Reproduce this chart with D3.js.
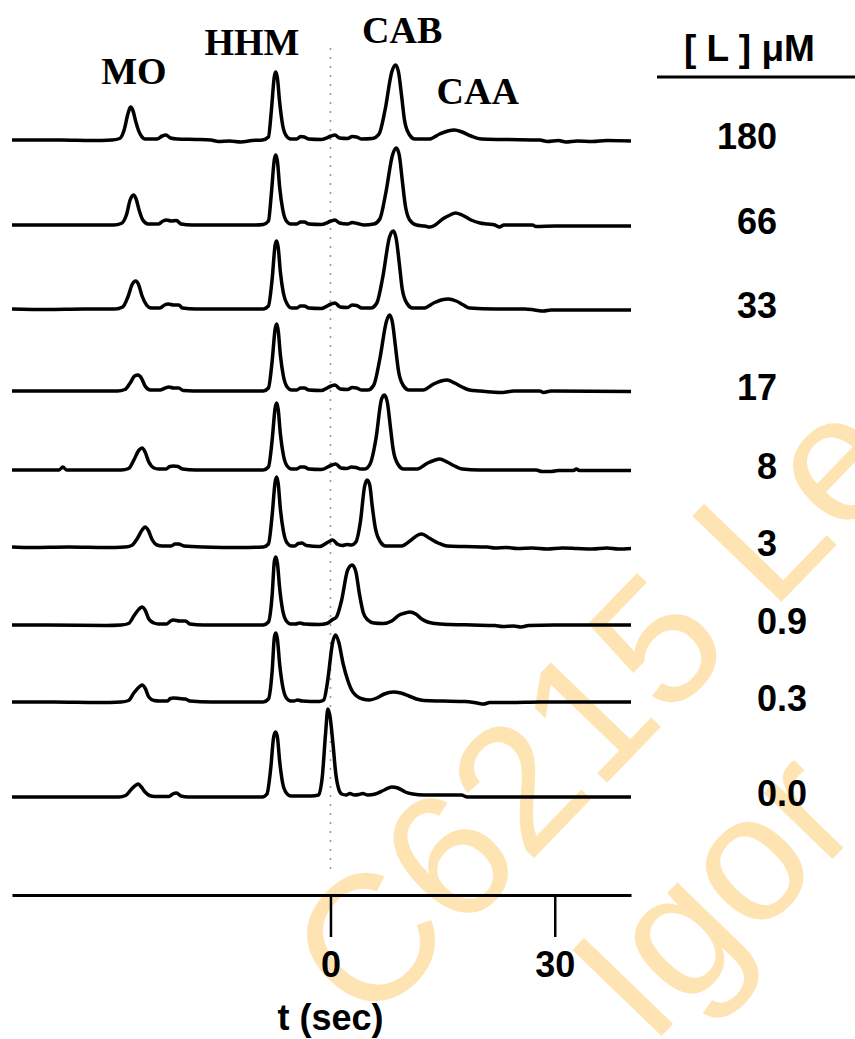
<!DOCTYPE html>
<html>
<head>
<meta charset="utf-8">
<script src="https://cdn.jsdelivr.net/npm/d3@7/dist/d3.min.js"></script>
<style>
  html, body { margin: 0; padding: 0; background: #fff; }
  svg { display: block; }
</style>
</head>
<body>
<svg id="chart" width="855" height="1039"></svg>
<script>
// ---------- DATA ----------
const concentrations = ["180", "66", "33", "17", "8", "3", "0.9", "0.3", "0.0"];
// vertical stacking offset of each trace (signal units above the time axis)
const traceOffsets = [755, 670, 586, 504, 425, 348, 270, 193, 98];
const peakNames = ["MO", "HHM", "CAB", "CAA"];
const tickValues = [0, 30];
const xLabel = "t (sec)";
const headerLabel = "[ L ] \u03BCM";
const watermarkLines = ["C6215 Le", "Igor"];

// traces: [t (sec), signal]
const t180 = [[-42.6,0],[-36,0],[-32,-0.5],[-29.2,0],[-28.2,1.5],[-27.6,10],[-27.1,26],[-26.75,33],[-26.45,30],[-26.1,20],[-25.7,10],[-25.3,4],[-24.8,1],[-23.2,1],[-22.5,4],[-22.0,5],[-21.4,2],[-20.5,1],[-18,0.5],[-16,0],[-15,-1.5],[-13.5,-1],[-12,-2],[-10.5,-0.5],[-9.1,0],[-8.3,3],[-7.9,30],[-7.5,64],[-7.3,68],[-7.1,62],[-6.8,38],[-6.4,15],[-5.9,4],[-5.3,1],[-4.5,1],[-4.0,3.5],[-3.5,3],[-2.9,1],[-1.2,0.5],[0.1,4],[0.6,5],[1.2,2],[2.3,1.5],[2.9,3.5],[3.5,3],[4.2,1],[5.6,1.5],[6.5,6],[7.3,30],[8.2,68],[8.7,75],[9.1,68],[9.5,45],[9.9,20],[10.5,6],[11.3,1],[13.2,1],[14.6,6],[15.7,9],[16.6,10],[17.6,8],[18.8,4],[20.2,1],[23,0.5],[28,0],[29,-1.5],[30.5,-0.5],[31.5,-2],[33,-1],[35,-1.5],[37,-0.5],[40.2,-1]];
const t66 = [[-42.6,0],[-35,0],[-29,0],[-28,1.5],[-27.3,10],[-26.8,25],[-26.35,30],[-26.0,26],[-25.6,15],[-25.1,5],[-24.4,1],[-23.0,1],[-22.4,4],[-21.9,5],[-21.3,4],[-20.6,4.5],[-20.0,1],[-18.5,0],[-12,0],[-10,0],[-9.0,0.5],[-8.3,4],[-7.9,32],[-7.5,66],[-7.3,70],[-7.1,64],[-6.8,38],[-6.4,16],[-5.9,4],[-5.3,1],[-4.5,1],[-4.0,3],[-3.5,3],[-2.9,1],[-1.2,0.5],[0.1,4],[0.6,5],[1.2,2],[2.3,1],[2.9,2.5],[3.6,1.5],[4.5,0],[5.8,1],[6.6,6],[7.4,32],[8.3,70],[8.8,77],[9.2,70],[9.6,45],[10.0,20],[10.6,5],[11.5,0],[12.6,-1],[13.3,-2],[14.0,0],[15.0,6],[16.0,10],[16.7,12],[17.6,10],[18.8,5],[20.0,2],[21,1],[22.0,0],[22.6,-2],[23.2,0],[27,0],[27.5,-1.5],[30,-1],[40.2,-1]];
const t33 = [[-42.6,0],[-38,-0.5],[-33,0],[-28.8,0],[-27.8,2],[-27.1,12],[-26.5,25],[-26.05,28],[-25.7,25],[-25.2,13],[-24.6,4],[-24.0,1],[-22.8,1],[-22.2,4],[-21.7,5],[-21.0,4],[-20.3,4],[-19.8,1],[-18,0],[-9.0,0],[-8.3,3],[-7.8,30],[-7.4,64],[-7.2,68],[-7.0,62],[-6.7,37],[-6.3,16],[-5.8,5],[-5.2,1],[-4.5,1],[-4.0,3],[-3.5,3],[-2.9,1],[-1.2,0.5],[0.1,5],[0.6,6],[1.3,2],[2.3,1.5],[2.9,4],[3.5,3.5],[4.2,1],[5.4,1],[6.2,6],[7.0,32],[7.9,72],[8.4,78],[8.8,70],[9.2,46],[9.6,20],[10.2,6],[11.0,1],[12.5,1],[13.8,6],[14.8,9],[15.8,10],[16.8,8],[17.8,4],[18.6,1],[22,0],[26,0],[27.3,-1],[28.5,-2],[29.5,-1],[32,-1],[40.2,-1]];
const t17 = [[-42.6,0],[-35,0],[-28.5,0],[-27.5,1.5],[-26.8,8],[-26.2,15],[-25.75,16],[-25.3,13],[-24.8,5],[-24.1,1],[-22.8,1],[-22.1,3],[-21.6,4],[-21.0,3],[-20.3,3],[-19.7,0.5],[-17,0],[-9.0,0],[-8.3,3],[-7.8,30],[-7.4,62],[-7.2,67],[-7.0,61],[-6.7,36],[-6.3,15],[-5.8,4],[-5.2,1],[-4.5,1],[-4.0,3],[-3.5,3],[-2.9,1],[-1.2,0.5],[0.1,5],[0.6,6],[1.3,2],[2.3,1.5],[2.9,3.5],[3.5,3],[4.2,1],[5.0,1],[5.8,6],[6.6,32],[7.5,70],[7.9,76],[8.3,68],[8.7,44],[9.1,20],[9.7,6],[10.5,1],[12.4,1],[13.8,7],[14.8,10],[15.6,11],[16.6,8],[17.6,4],[18.6,1],[20,0],[21.5,-1],[23,-1.5],[24.5,0],[28,0],[28.5,-1.5],[29.5,0],[40.2,-0.5]];
const t8 = [[-42.6,0],[-38,0],[-36.3,0],[-35.8,3],[-35.3,0],[-30,0],[-28,0],[-27.0,1.5],[-26.3,10],[-25.6,20],[-25.2,22],[-24.8,18],[-24.3,8],[-23.6,2],[-23.0,1],[-22.0,1],[-21.5,3.5],[-21.0,4],[-20.4,3.5],[-19.8,1],[-18,0],[-9.0,0],[-8.3,3],[-7.8,30],[-7.4,62],[-7.2,67],[-7.0,61],[-6.7,36],[-6.3,15],[-5.8,4],[-5.2,1],[-4.5,1],[-4.0,3],[-3.5,3],[-2.9,1],[-1.2,0.5],[0.2,5],[0.7,6],[1.4,2],[2.2,1.5],[2.8,3],[3.4,2.5],[4.0,1],[4.6,1],[5.3,6],[6.1,32],[6.8,70],[7.2,75],[7.6,68],[8.0,44],[8.4,20],[9.0,6],[9.8,1],[11.6,1],[13.0,7],[14.0,10],[14.6,11],[15.6,8],[16.6,4],[17.6,1],[20,0],[27.5,0],[28.3,-1.5],[29.5,-1.5],[30.5,-0.5],[32.5,-0.5],[32.9,1],[33.3,-0.5],[40.2,-0.5]];
const t3 = [[-42.6,0],[-40,-0.5],[-35,0],[-30,-0.5],[-27.5,0],[-26.6,1.5],[-25.8,9],[-25.2,17],[-24.8,20],[-24.4,17],[-23.9,8],[-23.2,2],[-22.5,1],[-21.3,1],[-20.8,3],[-20.3,3],[-19.6,1],[-17,0],[-12,-0.5],[-9.0,0],[-8.3,3],[-7.8,32],[-7.4,65],[-7.2,70],[-7.0,64],[-6.7,38],[-6.3,16],[-5.8,4],[-5.2,1],[-4.8,1],[-4.3,3.5],[-3.8,4],[-3.2,1.5],[-1.5,0.5],[-0.3,5],[0.3,7],[0.9,3],[1.6,1.5],[2.2,2.5],[2.8,2],[3.4,5],[4.0,25],[4.55,60],[4.9,67],[5.25,62],[5.6,40],[6.0,19],[6.6,6],[7.4,1],[9.5,1],[10.8,7],[11.7,12],[12.2,13],[13.2,9],[14.4,4],[15.6,1],[18,0.5],[21,0],[22,-1],[23.5,-0.5],[25,-1.5],[27,-1],[29,-2],[31,-1],[33,-1.5],[35,-2],[37,-1],[38.5,-2],[40.2,-1.5]];
const t09 = [[-42.6,0],[-38,0],[-30,-0.5],[-28,0],[-27.0,1.5],[-26.3,9],[-25.6,16],[-25.2,18],[-24.8,15],[-24.3,6],[-23.6,2],[-23.0,1],[-21.9,1],[-21.4,4],[-21.0,5],[-20.2,4],[-19.4,4],[-18.8,1],[-17,0],[-9.0,0],[-8.3,3],[-7.8,30],[-7.5,64],[-7.3,68],[-7.1,62],[-6.8,37],[-6.4,15],[-5.9,4],[-5.3,1],[-4.7,1],[-4.1,2],[-3.5,1],[-1.5,0.5],[-0.5,1.5],[0.2,5],[0.8,8],[1.5,25],[2.3,55],[2.9,60],[3.4,53],[3.9,30],[4.4,12],[5.0,5],[5.8,2],[7.0,1.5],[8.2,4],[9.2,10],[10.0,12],[10.6,13],[11.4,11],[12.2,6],[13.0,3],[14,1.5],[16,0.5],[19,0],[22,-0.5],[23,-1.5],[24.5,-1],[25.5,-2],[26.5,-0.5],[30,0],[40.2,0]];
const t03 = [[-42.6,0],[-37,0],[-31,-0.5],[-28,0],[-27.0,1.5],[-26.3,9],[-25.6,15],[-25.2,17],[-24.8,14],[-24.3,5],[-23.6,1.5],[-22.9,1],[-21.8,1],[-21.4,3.5],[-21.0,4],[-20.2,3.5],[-19.4,3],[-18.8,1],[-16,0],[-9.0,0],[-8.3,3],[-7.8,31],[-7.5,65],[-7.3,69],[-7.1,63],[-6.8,38],[-6.4,16],[-5.9,4],[-5.3,1],[-4.9,1],[-4.4,2],[-3.8,1],[-1.5,0.5],[-0.9,2],[-0.4,20],[0.3,60],[0.7,67],[1.1,60],[1.7,38],[2.3,22],[2.9,11],[3.5,6],[4.3,3],[5.2,2],[6.2,4],[7.2,8],[8.4,10],[9.4,9],[10.5,6],[11.5,3],[12.5,1.5],[15,1],[18,0.5],[19.6,-1],[20.5,-2],[21.3,-0.5],[24,-0.5],[28,0],[40.2,0]];
const t00 = [[-42.6,0],[-36,0],[-30,0],[-28.3,0],[-27.4,1.5],[-26.6,8],[-26.0,12],[-25.7,13],[-25.3,10],[-24.8,5],[-24.2,1.5],[-23.5,0.5],[-21.6,0.5],[-21.1,3],[-20.6,4],[-20.0,1],[-19,0],[-9.1,0],[-8.5,3],[-8.0,28],[-7.6,60],[-7.35,65],[-7.1,60],[-6.8,36],[-6.4,14],[-5.9,4],[-5.3,1],[-4,1],[-2.6,1],[-1.6,2],[-1.1,20],[-0.65,64],[-0.35,88],[-0.05,80],[0.35,52],[0.7,24],[1.1,8],[1.5,3],[2.1,2],[2.6,3.5],[3.2,2],[3.8,2.5],[4.3,3.5],[5.0,2],[6.0,3],[7.2,7],[8.2,10],[9.0,9],[10.0,5],[11.0,3],[12.5,2],[15,2],[17.5,2],[18.3,0],[40.2,0]];
const traces = [t180, t66, t33, t17, t8, t3, t09, t03, t00];

// ---------- LAYOUT ----------
const W = 855, H = 1039;
const tDomain = [-42.6, 40.2];
const peakLabelT = [-26.3, -10.5, 9.6, 19.7];
const peakLabelLevel = [811, 840, 852, 791];

const svg = d3.select("#chart");
svg.append("rect").attr("width", W).attr("height", H).attr("fill", "#fff");

const x = d3.scaleLinear().domain(tDomain).range([12, 631]);
const y = d3.scaleLinear().domain([0, 755]).range([895, 140]);

const SANS = "'Liberation Sans', Arial, Helvetica, sans-serif";
const SERIF = "'Liberation Serif', 'Times New Roman', serif";

// watermark
const wm = svg.append("g").attr("fill", "#FFE4B3")
  .attr("font-family", SANS).attr("font-size", 180);
wm.append("text").attr("transform", "translate(368,1030) rotate(-46)").text(watermarkLines[0]);
wm.append("text").attr("transform", "translate(650,1048) rotate(-46)").text(watermarkLines[1]);

// dotted zero line
svg.append("line")
  .attr("x1", x(0)).attr("x2", x(0))
  .attr("y1", 48).attr("y2", 872)
  .attr("stroke", "#999").attr("stroke-width", 1.6)
  .attr("stroke-dasharray", "2 7");

// traces
const line = d3.line().curve(d3.curveMonotoneX);
traces.forEach((tr, i) => {
  const off = traceOffsets[i];
  svg.append("path")
    .attr("d", line.x(d => x(d[0])).y(d => y(off + d[1]))(tr))
    .attr("fill", "none")
    .attr("stroke", "#000")
    .attr("stroke-width", 3.5)
    .attr("stroke-linejoin", "round")
    .attr("stroke-linecap", "butt");
});

// peak labels
svg.append("g").selectAll("text").data(peakNames).join("text")
  .attr("x", (d, i) => x(peakLabelT[i]))
  .attr("y", (d, i) => y(peakLabelLevel[i]))
  .attr("text-anchor", "middle")
  .attr("font-family", SERIF).attr("font-weight", "bold").attr("font-size", 38)
  .attr("fill", "#000")
  .text(d => d);

// concentration labels (decimal aligned)
const labG = svg.append("g");
concentrations.forEach((c, i) => {
  const t = labG.append("text")
    .attr("y", y(traceOffsets[i]) - 4)
    .attr("dominant-baseline", "central")
    .attr("font-family", SANS).attr("font-weight", "bold").attr("font-size", 36)
    .attr("fill", "#000")
    .text(c);
  const intLen = c.indexOf(".") >= 0 ? c.indexOf(".") : c.length;
  const w = t.node().getSubStringLength(0, intLen);
  t.attr("x", 777 - w);
});

// header
svg.append("text")
  .attr("x", 684).attr("y", 61)
  .attr("font-family", SANS).attr("font-weight", "bold").attr("font-size", 37)
  .attr("fill", "#000")
  .text(headerLabel);
svg.append("line").attr("x1", 657).attr("x2", 855).attr("y1", 77).attr("y2", 77)
  .attr("stroke", "#000").attr("stroke-width", 3);

// axis
const axis = d3.axisBottom(x).tickValues(tickValues).tickSize(42).tickSizeOuter(0)
  .tickPadding(14).tickFormat(d3.format("d"));
const ag = svg.append("g").attr("transform", `translate(0,${y(0)})`).call(axis);
ag.select(".domain").attr("stroke", "#000").attr("stroke-width", 3);
ag.selectAll(".tick line").attr("stroke", "#000").attr("stroke-width", 2.5);
ag.selectAll(".tick text")
  .attr("font-family", SANS).attr("font-weight", "bold").attr("font-size", 36)
  .attr("fill", "#000");

svg.append("text")
  .attr("x", x(0)).attr("y", 1030)
  .attr("text-anchor", "middle")
  .attr("font-family", SANS).attr("font-weight", "bold").attr("font-size", 36)
  .attr("fill", "#000")
  .text(xLabel);
</script>
</body>
</html>
